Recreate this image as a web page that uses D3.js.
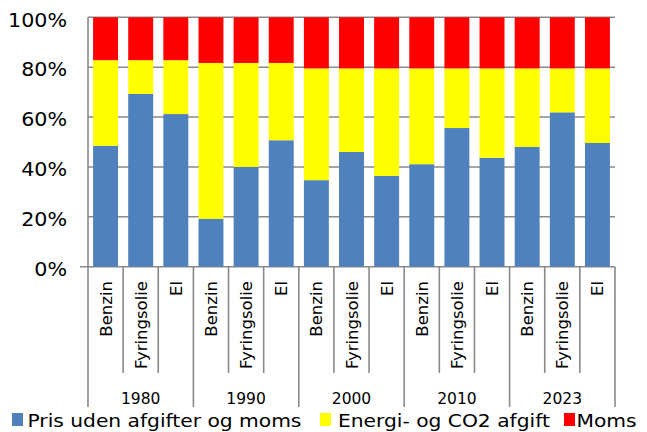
<!DOCTYPE html>
<html><head><meta charset="utf-8">
<script src="https://cdn.jsdelivr.net/npm/d3@7"></script>
<style>body{margin:0;background:#fff}svg{display:block}text{font-family:"DejaVu Sans",Verdana,sans-serif;fill:#000}</style>
</head><body><svg id="c" width="647" height="432"></svg>
<script>
const years = ["1980","1990","2000","2010","2023"];
const fuels = ["Benzin","Fyringsolie","El"];
const seriesNames = ["Pris uden afgifter og moms","Energi- og CO2 afgift","Moms"];
const colors = ["#4F81BD","#FFFF00","#FF0000"];
const pris   = [48.5,69.3,61.2, 19.2,40.0,50.7, 34.7,46.0,36.4, 41.1,55.6,43.7, 48.0,61.9,49.6];
const energi = [34.3,13.5,21.6, 62.5,41.7,31.0, 44.8,33.5,43.1, 38.4,23.9,35.8, 31.5,17.6,29.9];
const moms   = [17.2,17.2,17.2, 18.3,18.3,18.3, 20.5,20.5,20.5, 20.5,20.5,20.5, 20.5,20.5,20.5];
const yTicks = [0,20,40,60,80,100];

const rows = [];
years.forEach((yr,gi)=>fuels.forEach((f,fi)=>{const i=gi*3+fi;rows.push({id:i,year:yr,fuel:f,s0:pris[i],s1:energi[i],s2:moms[i]});}));

const svg = d3.select("#c");
const L=88,R=615,T=17.3,B=266.7;
const x = d3.scaleBand().domain(rows.map(d=>d.id)).range([L,R]).paddingInner(0.29).paddingOuter(0.145);
const y = d3.scaleLinear().domain([0,100]).range([B,T]);
const grid="#898989";

// gridlines
svg.append("g").selectAll("line").data(yTicks).join("line")
  .attr("x1",d=>d===0?80:L).attr("x2",R).attr("y1",d=>y(d)).attr("y2",d=>y(d))
  .attr("stroke",grid).attr("stroke-width",1.6);

// y labels
svg.append("g").selectAll("text").data(yTicks).join("text")
  .attr("transform",d=>`translate(67,${y(d)+9.3}) scale(1.07,1)`)
  .attr("text-anchor","end").style("font-size","19.3px").text(d=>d+"%");

// bars
const stack = d3.stack().keys(["s0","s1","s2"])(rows);
svg.append("g").selectAll("g").data(stack).join("g").attr("fill",(d,i)=>colors[i])
  .selectAll("rect").data(d=>d).join("rect")
  .attr("x",d=>x(d.data.id)).attr("width",x.bandwidth())
  .attr("y",d=>y(d[1])).attr("height",d=>y(d[0])-y(d[1]));

// axes lines
const step = x.step();
const ax = svg.append("g").attr("stroke",grid).attr("stroke-width",1.6);
ax.append("line").attr("x1",L).attr("x2",L).attr("y1",T).attr("y2",407);
for(let i=1;i<=15;i++){
  const xx = L + i*step;
  ax.append("line").attr("x1",xx).attr("x2",xx).attr("y1",B).attr("y2",(i%3===0)?407:373);
}

// category labels
svg.append("g").selectAll("text").data(rows).join("text")
  .attr("transform",d=>`translate(${x(d.id)+x.bandwidth()/2+6},281) rotate(-90)`)
  .attr("text-anchor","end").style("font-size","16.5px").text(d=>d.fuel);

// year labels
svg.append("g").selectAll("text").data(years).join("text")
  .attr("x",(d,i)=>L+(i*3+1.5)*step).attr("y",404)
  .attr("text-anchor","middle").style("font-size","15.5px").text(d=>d);

// legend
const legX=[12,320,564], txtX=[27.5,338,576.5];
const lg = svg.append("g");
seriesNames.forEach((n,i)=>{
  lg.append("rect").attr("x",legX[i]).attr("y",413).attr("width",11).attr("height",13).attr("fill",colors[i]);
  lg.append("text").attr("transform",`translate(${txtX[i]},426.5) scale(1.1,1)`).style("font-size","18.4px").text(n);
});
</script></body></html>
